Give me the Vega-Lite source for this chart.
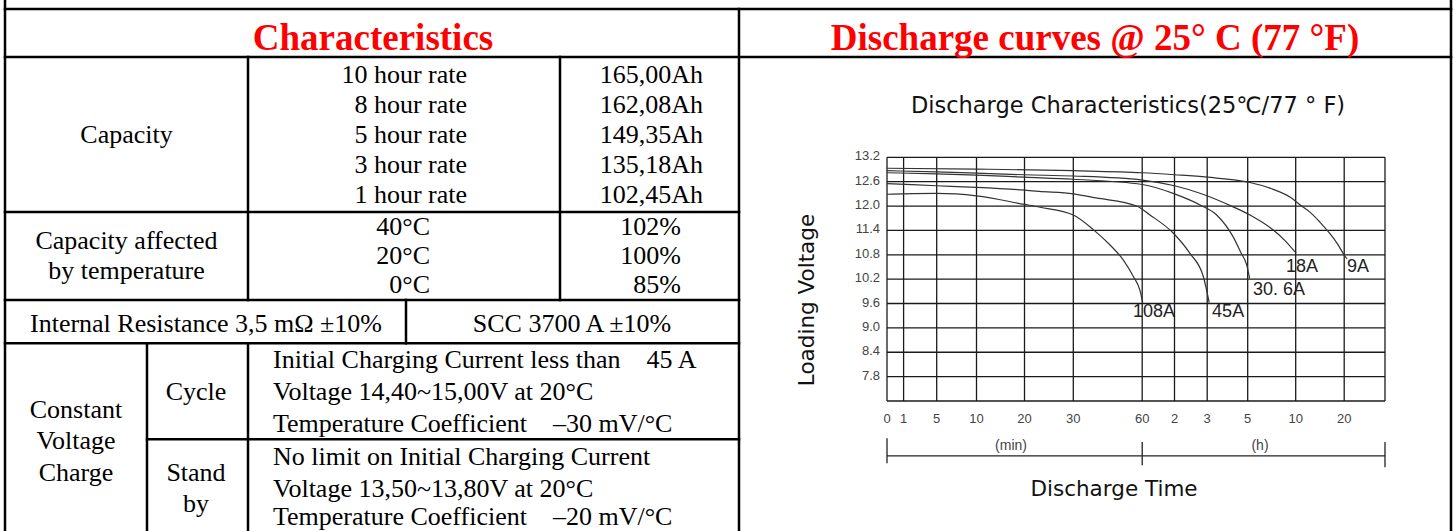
{
"$schema": "https://vega.github.io/schema/vega-lite/v6.json",
"width": 1456, "height": 531, "padding": 0, "autosize": {"type": "none"},
"background": "white",
"config": {"view": {"stroke": null}},
"datasets": {
"tableLines": [
{"col":0,"col2":0,"row":0,"row2":29},
{"col":19,"col2":19,"row":0,"row2":29},
{"col":0,"col2":19,"row":1,"row2":1},
{"col":0,"col2":19,"row":3,"row2":3},
{"col":16,"col2":16,"row":1,"row2":29},
{"col":0,"col2":16,"row":9,"row2":9},
{"col":0,"col2":16,"row":15,"row2":15},
{"col":0,"col2":16,"row":17,"row2":17},
{"col":3,"col2":16,"row":22,"row2":22},
{"col":6,"col2":6,"row":3,"row2":15},
{"col":12,"col2":12,"row":3,"row2":15},
{"col":9,"col2":9,"row":15,"row2":17},
{"col":3,"col2":3,"row":17,"row2":29},
{"col":6,"col2":6,"row":17,"row2":29}
],
"headers": [
{"t":"Characteristics","col":8,"row":2},
{"t":"Discharge curves @ 25° C (77 °F)","col":17,"row":2}
],
"centerText": [
{"t":"Capacity","col":2,"row":6},
{"t":"Capacity affected","col":2,"row":11},
{"t":"by temperature","col":2,"row":13},
{"t":"Internal Resistance 3,5 mΩ ±10%","col":5,"row":16},
{"t":"SCC 3700 A ±10%","col":13,"row":16},
{"t":"Cycle","col":4,"row":19},
{"t":"Stand","col":4,"row":25},
{"t":"by","col":4,"row":27},
{"t":"Constant","col":1,"row":20},
{"t":"Voltage","col":1,"row":23},
{"t":"Charge","col":1,"row":25}
],
"rightText": [
{"t":"10 hour rate","col":11,"row":4},
{"t":"8 hour rate","col":11,"row":5},
{"t":"5 hour rate","col":11,"row":6},
{"t":"3 hour rate","col":11,"row":7},
{"t":"1 hour rate","col":11,"row":8},
{"t":"165,00Ah","col":15,"row":4},
{"t":"162,08Ah","col":15,"row":5},
{"t":"149,35Ah","col":15,"row":6},
{"t":"135,18Ah","col":15,"row":7},
{"t":"102,45Ah","col":15,"row":8},
{"t":"40°C","col":10,"row":10},
{"t":"20°C","col":10,"row":12},
{"t":"0°C","col":10,"row":14},
{"t":"102%","col":14,"row":10},
{"t":"100%","col":14,"row":12},
{"t":"85%","col":14,"row":14}
],
"leftText": [
{"t":"Initial Charging Current less than \u00a0\u00a0\u00a045 A","col":7,"row":18},
{"t":"Voltage 14,40~15,00V at 20°C","col":7,"row":19},
{"t":"Temperature Coefficient \u00a0\u00a0\u00a0–30 mV/°C","col":7,"row":21},
{"t":"No limit on Initial Charging Current","col":7,"row":24},
{"t":"Voltage 13,50~13,80V at 20°C","col":7,"row":26},
{"t":"Temperature Coefficient \u00a0\u00a0\u00a0–20 mV/°C","col":7,"row":28}
],
"chartTitle": [
{"t":"Discharge Characteristics(25℃/77 ° F)","col":18,"row":5}
],
"axisTitles": [
{"t":"Loading Voltage","col":20,"row":30,"angle":270},
{"t":"Discharge Time","col":21,"row":31,"angle":0}
],
"timeGrid": [{"t":0},{"t":1},{"t":5},{"t":10},{"t":20},{"t":30},{"t":60},{"t":120},{"t":180},{"t":300},{"t":600},{"t":1200},{"t":1800}],
"timeTicks": [{"t":0,"lab":"0"},{"t":1,"lab":"1"},{"t":5,"lab":"5"},{"t":10,"lab":"10"},{"t":20,"lab":"20"},{"t":30,"lab":"30"},{"t":60,"lab":"60"},{"t":120,"lab":"2"},{"t":180,"lab":"3"},{"t":300,"lab":"5"},{"t":600,"lab":"10"},{"t":1200,"lab":"20"}],
"voltGrid": [{"v":7.2},{"v":7.8},{"v":8.4},{"v":9.0},{"v":9.6},{"v":10.2},{"v":10.8},{"v":11.4},{"v":12.0},{"v":12.6},{"v":13.2}],
"curves": [
{"current":"9A","t":0,"v":12.93},{"current":"9A","t":10,"v":12.91},{"current":"9A","t":30,"v":12.87},{"current":"9A","t":60,"v":12.82},{"current":"9A","t":120,"v":12.77},{"current":"9A","t":180,"v":12.71},{"current":"9A","t":314,"v":12.58},{"current":"9A","t":439,"v":12.44},{"current":"9A","t":564,"v":12.22},{"current":"9A","t":653,"v":12.03},{"current":"9A","t":777,"v":11.85},{"current":"9A","t":901,"v":11.6},{"current":"9A","t":1024,"v":11.32},{"current":"9A","t":1123,"v":11.05},{"current":"9A","t":1198,"v":10.8},{"current":"9A","t":1241,"v":10.7},
{"current":"18A","t":0,"v":12.87},{"current":"18A","t":5,"v":12.84},{"current":"18A","t":10,"v":12.81},{"current":"18A","t":20,"v":12.77},{"current":"18A","t":30,"v":12.74},{"current":"18A","t":60,"v":12.64},{"current":"18A","t":120,"v":12.5},{"current":"18A","t":168,"v":12.31},{"current":"18A","t":257,"v":11.98},{"current":"18A","t":314,"v":11.78},{"current":"18A","t":460,"v":11.41},{"current":"18A","t":533,"v":11.15},{"current":"18A","t":605,"v":10.84},
{"current":"30.6A","t":0,"v":12.82},{"current":"30.6A","t":5,"v":12.79},{"current":"30.6A","t":10,"v":12.76},{"current":"30.6A","t":20,"v":12.71},{"current":"30.6A","t":30,"v":12.66},{"current":"30.6A","t":60,"v":12.53},{"current":"30.6A","t":120,"v":12.3},{"current":"30.6A","t":168,"v":12.02},{"current":"30.6A","t":208,"v":11.78},{"current":"30.6A","t":257,"v":11.24},{"current":"30.6A","t":280,"v":10.85},{"current":"30.6A","t":297,"v":10.55},{"current":"30.6A","t":312,"v":10.22},
{"current":"45A","t":0,"v":12.55},{"current":"45A","t":5,"v":12.5},{"current":"45A","t":10,"v":12.46},{"current":"45A","t":20,"v":12.39},{"current":"45A","t":23,"v":12.36},{"current":"45A","t":30,"v":12.3},{"current":"45A","t":40,"v":12.2},{"current":"45A","t":57.6,"v":12.0},{"current":"45A","t":74.5,"v":11.78},{"current":"45A","t":118,"v":11.33},{"current":"45A","t":148,"v":10.84},{"current":"45A","t":173,"v":10.26},{"current":"45A","t":186,"v":9.62},
{"current":"108A","t":0,"v":12.29},{"current":"108A","t":1,"v":12.3},{"current":"108A","t":5,"v":12.31},{"current":"108A","t":10,"v":12.25},{"current":"108A","t":20,"v":12.04},{"current":"108A","t":23.2,"v":11.97},{"current":"108A","t":30,"v":11.78},{"current":"108A","t":38.7,"v":11.42},{"current":"108A","t":46,"v":11.04},{"current":"108A","t":51.8,"v":10.67},{"current":"108A","t":56.2,"v":10.26},{"current":"108A","t":59,"v":9.93},{"current":"108A","t":61,"v":9.62}
],
"curveLabels": [
{"label":"108A","t":82,"v":9.39},
{"label":"45A","t":242,"v":9.39},
{"label":"30. 6A","t":496,"v":9.93},
{"label":"18A","t":678,"v":10.5},
{"label":"9A","t":1403,"v":10.5}
],
"bracket": [
{"t":0,"t2":1800,"v":5.85,"v2":5.85},
{"t":0,"t2":0,"v":6.28,"v2":5.67},
{"t":60,"t2":60,"v":6.19,"v2":5.62},
{"t":1800,"t2":1800,"v":6.19,"v2":5.57}
],
"unitLabels": [
{"u":"(min)","t":17.2,"v":6.1},
{"u":"(h)","t":377,"v":6.1}
]
},
"layer": [
{
"layer": [
{"data":{"name":"tableLines"},
 "mark":{"type":"rule","color":"black","strokeWidth":2.5,"strokeCap":"square"},
 "encoding":{
  "x":{"field":"col","type":"quantitative","axis":null,"scale":{"type":"linear","domain":[0,1,2,3,4,5,6,7,8,9,10,11,12,13,14,15,16,17,18,19,20,21],"range":[5,76,126.5,147,196,206,248,273,373,406,430,467,560,572,681,703,739,1095,1128,1451,808,1114],"nice":false,"zero":false}},
  "x2":{"field":"col2"},
  "y":{"field":"row","type":"quantitative","axis":null,"scale":{"type":"linear","domain":[0,1,2,3,4,5,6,7,8,9,10,11,12,13,14,15,16,17,18,19,20,21,22,23,24,25,26,27,28,29,30,31],"range":[0,9,50,57,82.7,112.7,142.7,172.7,202.7,212,235,249.3,264,279.3,293.3,300,331.7,343.3,368.3,400,418.3,432.3,439.3,449.3,465,481,496.7,511.7,524.5,531,300,490],"nice":false,"zero":false}},
  "y2":{"field":"row2"}}},
{"data":{"name":"headers"},
 "mark":{"type":"text","font":"Liberation Serif","fontSize":37,"fontWeight":"bold","color":"#ff0000","align":"center","baseline":"alphabetic"},
 "encoding":{
  "x":{"field":"col","type":"quantitative","axis":null},
  "y":{"field":"row","type":"quantitative","axis":null},
  "text":{"field":"t"}}},
{"data":{"name":"centerText"},
 "mark":{"type":"text","font":"Liberation Serif","fontSize":26,"color":"black","align":"center","baseline":"alphabetic"},
 "encoding":{
  "x":{"field":"col","type":"quantitative","axis":null},
  "y":{"field":"row","type":"quantitative","axis":null},
  "text":{"field":"t"}}},
{"data":{"name":"rightText"},
 "mark":{"type":"text","font":"Liberation Serif","fontSize":26,"color":"black","align":"right","baseline":"alphabetic"},
 "encoding":{
  "x":{"field":"col","type":"quantitative","axis":null},
  "y":{"field":"row","type":"quantitative","axis":null},
  "text":{"field":"t"}}},
{"data":{"name":"leftText"},
 "mark":{"type":"text","font":"Liberation Serif","fontSize":26,"color":"black","align":"left","baseline":"alphabetic"},
 "encoding":{
  "x":{"field":"col","type":"quantitative","axis":null},
  "y":{"field":"row","type":"quantitative","axis":null},
  "text":{"field":"t"}}},
{"data":{"name":"chartTitle"},
 "mark":{"type":"text","font":"DejaVu Sans","fontSize":22.5,"color":"#111","align":"center","baseline":"alphabetic"},
 "encoding":{
  "x":{"field":"col","type":"quantitative","axis":null},
  "y":{"field":"row","type":"quantitative","axis":null},
  "text":{"field":"t"}}},
{"data":{"name":"axisTitles"},
 "mark":{"type":"text","font":"DejaVu Sans","fontSize":21.5,"color":"#111","align":"center","baseline":"middle"},
 "encoding":{
  "x":{"field":"col","type":"quantitative","axis":null},
  "y":{"field":"row","type":"quantitative","axis":null},
  "angle":{"field":"angle","type":"quantitative","scale":null},
  "text":{"field":"t"}}}
]
},
{
"layer": [
{"data":{"name":"timeGrid"},
 "mark":{"type":"rule","color":"#1a1a1a","strokeWidth":1.3},
 "encoding":{
  "x":{"field":"t","type":"quantitative","axis":null,
   "scale":{"type":"linear","domain":[0,1,5,10,20,30,60,120,180,300,600,1200,1800],"range":[887,903.6,936.7,976.5,1024.5,1073.3,1142.2,1174.5,1207.2,1247.7,1295.7,1344.2,1385],"nice":false,"zero":false}},
  "y":{"datum":7.2,"type":"quantitative","axis":null,
   "scale":{"type":"linear","domain":[7.2,13.2],"range":[401,157.3],"nice":false,"zero":false}},
  "y2":{"datum":13.2}}},
{"data":{"name":"voltGrid"},
 "mark":{"type":"rule","color":"#1a1a1a","strokeWidth":1.3},
 "encoding":{
  "x":{"datum":0,"type":"quantitative","axis":null},
  "x2":{"datum":1800},
  "y":{"field":"v","type":"quantitative","axis":null}}},
{"data":{"name":"timeTicks"},
 "mark":{"type":"text","font":"Liberation Sans","fontSize":13,"color":"#444","align":"center","baseline":"middle","dy":18},
 "encoding":{
  "x":{"field":"t","type":"quantitative","axis":null},
  "y":{"datum":7.2,"type":"quantitative","axis":null},
  "text":{"field":"lab"}}},
{"data":{"name":"voltGrid"},
 "transform":[{"filter":"datum.v > 7.5"}],
 "mark":{"type":"text","font":"Liberation Sans","fontSize":13,"color":"#444","align":"right","baseline":"middle","dx":-7,"dy":-1},
 "encoding":{
  "x":{"datum":0,"type":"quantitative","axis":null},
  "y":{"field":"v","type":"quantitative","axis":null},
  "text":{"field":"v","type":"quantitative","format":".1f"}}},
{"data":{"name":"curves"},
 "mark":{"type":"line","color":"#333","strokeWidth":1.2,"interpolate":"monotone"},
 "encoding":{
  "x":{"field":"t","type":"quantitative","axis":null},
  "y":{"field":"v","type":"quantitative","axis":null},
  "detail":{"field":"current","type":"nominal"}}},
{"data":{"name":"curveLabels"},
 "mark":{"type":"text","font":"Liberation Sans","fontSize":18,"color":"#222","align":"center","baseline":"middle"},
 "encoding":{
  "x":{"field":"t","type":"quantitative","axis":null},
  "y":{"field":"v","type":"quantitative","axis":null},
  "text":{"field":"label"}}},
{"data":{"name":"bracket"},
 "mark":{"type":"rule","color":"#222","strokeWidth":1.3},
 "encoding":{
  "x":{"field":"t","type":"quantitative","axis":null},
  "x2":{"field":"t2"},
  "y":{"field":"v","type":"quantitative","axis":null},
  "y2":{"field":"v2"}}},
{"data":{"name":"unitLabels"},
 "mark":{"type":"text","font":"Liberation Sans","fontSize":14,"color":"#444","align":"center","baseline":"middle"},
 "encoding":{
  "x":{"field":"t","type":"quantitative","axis":null},
  "y":{"field":"v","type":"quantitative","axis":null},
  "text":{"field":"u"}}}
]
}
],
"resolve": {"scale": {"x": "independent", "y": "independent"}}
}
